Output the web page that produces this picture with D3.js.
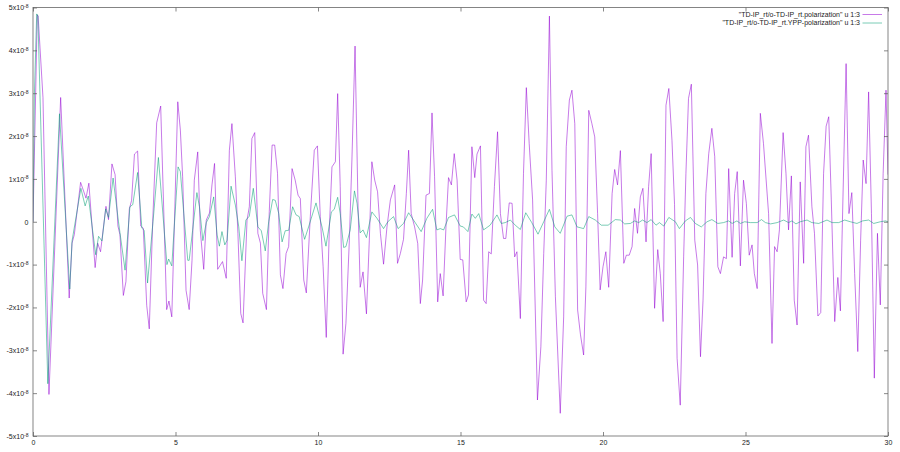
<!DOCTYPE html>
<html lang="en">
<head>
  <meta charset="UTF-8">
  <title>polarization</title>
  <script src="https://cdn.jsdelivr.net/npm/d3@7"></script>
  <style>
    body { margin: 0; background: #fff; }
    text { font-family: "Liberation Sans", Arial, sans-serif; fill: #222; }
  </style>
</head>
<body>
  <svg width="900" height="452"></svg>
  <script>
    // values are in units of 1e-8 as [time, value]
    const unit = 1e-8;
    const seriesNames = ['"TD-IP_rt/o-TD-IP_rt.polarization" u 1:3', '"TD-IP_rt/o-TD-IP_rt.YPP-polarization" u 1:3'];
    const xTicks = [0, 5, 10, 15, 20, 25, 30];
    const yTicks = [-5, -4, -3, -2, -1, 0, 1, 2, 3, 4, 5];

    const polarization = [
      [0,0],[0.15,4.83],[0.18,4.8],[0.35,2.9],[0.56,-4.03],[0.97,2.9],[1.27,-1.78],[1.37,-0.5],[1.45,-0.3],
      [1.67,0.92],[1.86,0.55],[1.96,0.9],[2.18,-1.07],[2.27,-0.5],[2.37,-0.7],[2.56,0.36],[2.65,0.05],
      [2.77,1.35],[2.88,1.1],[2.98,-0.1],[3.05,-0.3],[3.17,-1.72],[3.26,-1.4],[3.38,0.3],[3.46,0.5],
      [3.56,1.58],[3.67,1.65],[3.78,-0.1],[3.87,-0.15],[3.99,-1.95],[4.08,-2.5],[4.2,0],[4.34,2.31],
      [4.48,2.7],[4.69,-2.05],[4.77,-1.85],[4.87,-2.22],
      [5.08,2.8],[5.17,2.14],[5.25,1.05],[5.37,-1.6],[5.48,-2.05],[5.58,-0.9],[5.66,0.97],[5.78,1.63],
      [5.87,-0.2],[5.99,-1.11],[6.08,0.04],[6.19,0.2],[6.28,0.86],[6.37,1.36],[6.48,-1.11],[6.65,-0.93],
      [6.78,-1.32],[6.89,1.67],[6.98,2.29],[7.1,1.05],[7.19,-0.27],[7.29,-2.14],[7.37,-2.36],[7.51,0.04],
      [7.59,0.35],[7.68,1.94],[7.78,2.08],[7.89,-0.27],[7.98,-0.5],[8.06,-1.67],[8.19,-2.05],[8.29,0.23],
      [8.39,1.79],[8.48,1.79],
      [8.58,1.13],[8.68,-1.24],[8.77,-1.56],[8.88,-0.74],[8.97,-0.58],[9.09,1.24],[9.2,0.97],[9.3,0.62],
      [9.38,0.54],[9.5,-1.36],[9.59,-1.66],[9.73,0.12],[9.87,1.67],[9.98,1.77],[10.08,0.12],[10.18,-1.05],
      [10.29,-2.7],[10.4,-0.12],[10.49,1.28],[10.61,1.4],[10.69,2.99],[10.78,0.82],[10.88,-3.09],[10.98,-2.37],
      [11.1,-0.43],[11.19,1.44],[11.3,4.1],[11.4,0.51],[11.48,-1.53],[11.58,-1.17],[11.7,-2.15],[11.8,-0.43],
      [11.89,1.4],
      [11.99,0.97],[12.09,0.7],[12.19,-0.27],[12.3,-0.99],[12.42,-0.12],[12.54,0.51],[12.69,0.86],[12.79,-0.97],
      [12.89,-0.74],[13.0,-0.41],[13.1,0.66],[13.18,1.67],[13.27,0.19],[13.39,-0.12],[13.5,-0.51],[13.59,-1.91],
      [13.67,-1.36],[13.79,0.62],[13.91,0.66],[14.0,2.54],[14.09,1.05],[14.2,-1.87],[14.29,-1.21],[14.39,-1.73],
      [14.49,-0.12],[14.58,1.03],[14.68,0.86],[14.78,1.59],[14.88,0.97],[14.99,-0.88],[15.08,-0.89],[15.2,-1.87],
      [15.28,-1.71],[15.4,1.75],
      [15.5,1.03],[15.58,1.58],[15.7,1.77],[15.81,-1.83],[15.9,-1.91],[15.99,-0.7],[16.08,-0.75],[16.19,0.82],
      [16.3,2.1],[16.4,0.19],[16.51,-0.39],[16.59,-0.39],[16.71,0.44],[16.81,0.43],[16.9,-0.82],[16.98,-0.7],
      [17.1,-2.26],[17.21,1.13],[17.31,3.13],[17.41,1.83],[17.53,0.51],[17.7,-4.16],[17.82,-2.92],[17.92,-0.74],
      [18.01,0.97],[18.12,4.8],[18.21,1.2],[18.33,-1.75],[18.5,-4.47],[18.62,-2.22],[18.71,1.75],[18.82,2.84],
      [18.91,3.07],
      [19.01,2.29],[19.11,-2.06],[19.21,-2.64],[19.32,-3.11],[19.4,-1.52],[19.5,2.6],[19.61,2.29],[19.71,1.98],
      [19.81,0.19],[19.9,-1.59],[20.0,-1.05],[20.1,-0.7],[20.2,-1.53],[20.32,0.66],[20.41,1.22],[20.51,0.86],
      [20.61,1.66],[20.73,-0.97],[20.82,-0.78],[20.92,-0.78],[21.02,-0.58],[21.11,0.31],[21.21,-0.27],[21.31,0.58],
      [21.4,0.78],[21.51,-0.47],[21.6,0.82],[21.69,1.59],[21.81,-2.02],[21.92,-0.65],[22.01,-1.21],[22.11,-2.33],
      [22.21,2.72],[22.31,3.11],[22.42,1.9],[22.51,0.4],
      [22.6,-3.19],[22.71,-4.28],[22.83,-0.82],[22.91,1.13],[23.0,2.88],[23.1,3.21],[23.22,-0.43],[23.32,-1.01],
      [23.42,-3.15],[23.51,-1.83],[23.61,0.66],[23.71,1.59],[23.82,2.18],[23.92,1.52],[24.03,-1.05],[24.12,-1.21],
      [24.23,-0.82],[24.33,-0.86],[24.41,1.24],[24.53,-0.83],[24.62,0.66],[24.71,1.17],[24.82,-1.03],[24.93,0.97],
      [25.03,0.43],[25.13,-0.78],[25.23,-0.54],[25.31,-1.21],[25.41,-1.56],[25.52,2.53],[25.63,1.83],[25.81,0.19],
      [25.93,-2.84],[26.02,-0.58],
      [26.11,-0.7],[26.19,-0.19],[26.32,2.08],[26.42,1.13],[26.51,-0.19],[26.61,1.07],[26.71,-1.83],[26.81,-2.41],
      [26.92,0.93],[27.04,-0.97],[27.12,1.75],[27.21,2.02],[27.33,0.35],[27.42,-0.27],[27.54,-2.2],[27.64,-2.12],
      [27.74,1.13],[27.83,2.23],[27.92,2.45],[28.01,0.51],[28.13,-2.33],[28.24,-1.3],[28.33,-2.08],[28.42,0.58],
      [28.53,3.69],[28.63,0.19],[28.73,0.68],[28.83,-1.21],[28.94,-3.03],[29.04,-0.43],[29.13,1.44],[29.23,0.89],
      [29.32,3.03],[29.42,0.19],[29.52,-3.65],[29.63,-0.27],[29.73,-1.94],[29.83,1.13],[29.93,3.07],[30.0,1.1]
    ];

    const yppPolarization = [
      [0,0],[0.05,3.0],[0.13,4.85],[0.17,4.8],[0.52,-3.78],[0.93,2.52],[1.29,-1.57],[1.37,-0.45],[1.68,0.78],
      [1.83,0.37],[1.94,0.6],[2.2,-0.77],[2.3,-0.34],[2.42,-0.45],[2.55,0.3],[2.65,0.1],[2.81,1.02],[3.0,0],
      [3.05,-0.25],[3.23,-1.13],[3.4,0.35],[3.5,0.4],[3.67,1.15],[3.82,-0.15],[3.9,-0.2],[4.02,-1.43],[4.25,0.3],
      [4.4,1.5],[4.7,-1.0],[4.76,-0.87],[4.87,-1.03],
      [5.09,1.28],[5.17,1.17],[5.29,0.2],[5.43,-0.9],[5.48,-0.9],[5.6,-0.2],[5.75,0.68],[5.84,0.35],[5.96,-0.44],
      [6.08,-0.02],[6.19,0.12],[6.34,0.58],[6.46,-0.31],[6.54,-0.57],[6.63,-0.23],[6.73,-0.54],[6.81,-0.43],
      [6.95,0.83],[7.1,0.39],[7.22,-0.12],[7.33,-0.91],[7.47,0.04],[7.59,0.13],[7.73,0.78],[7.89,-0.12],
      [8.01,-0.21],[8.15,-0.68],[8.27,0],[8.41,0.52],[8.5,0.5],
      [8.62,0.2],[8.74,-0.47],[8.85,-0.21],[8.97,-0.2],[9.11,0.35],[9.23,0.16],[9.34,0.12],[9.53,-0.41],
      [9.67,-0.12],[9.93,0.44],[10.14,-0.12],[10.28,-0.57],[10.47,0.23],[10.57,0.29],[10.69,0.57],[10.78,0.19],
      [10.9,-0.6],[10.98,-0.58],[11.13,-0.19],[11.28,0.72],[11.37,0.43],[11.48,-0.26],[11.58,-0.19],[11.7,-0.37],
      [11.89,0.23],
      [12.07,0.08],[12.3,-0.16],[12.45,0],[12.65,0.12],[12.81,-0.16],[13.0,-0.04],[13.18,0.21],[13.35,0.04],
      [13.62,-0.23],[13.82,0.08],[14.02,0.29],[14.17,-0.19],[14.29,-0.16],[14.41,-0.19],[14.58,0.1],[14.79,0.16],
      [14.99,-0.1],[15.1,-0.12],[15.26,-0.23],[15.4,0.18],
      [15.52,0.08],[15.64,0.19],[15.81,-0.19],[16.04,-0.08],[16.28,0.16],[16.43,-0.04],[16.57,-0.02],[16.75,0.04],
      [16.92,-0.08],[17.1,-0.18],[17.29,0.21],[17.5,-0.02],[17.72,-0.29],[17.92,0],[18.12,0.29],[18.31,-0.12],
      [18.5,-0.27],[18.74,0.13],[18.91,0.16],
      [19.09,-0.12],[19.32,-0.16],[19.5,0.12],[19.73,0.04],[19.94,-0.08],[20.18,-0.08],[20.43,0.05],[20.61,0.04],
      [20.76,-0.05],[20.96,-0.04],[21.11,0.02],[21.25,-0.02],[21.39,0.04],[21.54,-0.02],[21.69,0.05],[21.86,-0.08],
      [21.98,-0.02],[22.13,-0.1],[22.31,0.1],[22.54,0],
      [22.68,-0.16],[22.89,0.02],[23.07,0.1],[23.24,-0.04],[23.45,-0.12],[23.65,0],[23.82,0.05],[24.03,-0.04],
      [24.23,-0.02],[24.41,0.02],[24.53,-0.04],[24.7,0.02],[24.82,-0.04],[24.97,0],[25.17,-0.02],[25.41,-0.02],
      [25.56,0.05],[25.7,-0.02],[25.88,-0.05],
      [26.11,-0.02],[26.34,0.04],[26.51,-0.02],[26.63,0.02],[26.77,-0.05],[26.92,0],[27.16,0.04],[27.33,-0.02],
      [27.57,-0.04],[27.86,0.04],[28.04,-0.02],[28.27,-0.02],[28.48,0.04],[28.68,0],[28.91,-0.04],[29.11,0.02],
      [29.32,0.04],[29.5,-0.04],[29.73,0],[29.91,0.02],[30,0]
    ];

    const colors = ['#9400d3', '#009e73'];

    const svg = d3.select('svg');
    const margin = {left: 33, right: 12, top: 7.5, bottom: 16};
    const W = 900, H = 452;

    const x = d3.scaleLinear().domain([0, 30]).range([margin.left, W - margin.right]);
    const y = d3.scaleLinear().domain([-5 * unit, 5 * unit]).range([H - margin.bottom, margin.top]);

    svg.append('clipPath').attr('id', 'clip')
      .append('rect')
      .attr('x', margin.left).attr('y', margin.top)
      .attr('width', x.range()[1] - margin.left)
      .attr('height', y.range()[0] - margin.top);

    const line = d3.line()
      .x(d => x(d[0]))
      .y(d => y(d[1] * unit));

    [polarization, yppPolarization].forEach((s, i) => {
      svg.append('path')
        .datum(s)
        .attr('clip-path', 'url(#clip)')
        .attr('fill', 'none')
        .attr('stroke', colors[i])
        .attr('stroke-width', 0.7)
        .attr('stroke-opacity', 0.75)
        .attr('stroke-linejoin', 'round')
        .attr('d', line);
    });

    // axes, ticks pointing inwards like gnuplot
    function yLabel(sel) {
      sel.selectAll('.tick text').each(function(d) {
        const t = d3.select(this);
        const v = Math.round(d / unit);
        t.text(null);
        if (v === 0) { t.text('0'); return; }
        t.append('tspan').text(v + 'x10');
        t.append('tspan').attr('dy', '-0.45em').attr('font-size', '5px').text('-8');
      });
    }

    svg.append('g')
      .attr('transform', `translate(${margin.left},0)`)
      .call(d3.axisLeft(y).tickValues(yTicks.map(v => v * unit))
        .tickSizeInner(-4).tickSizeOuter(0).tickPadding(4.5))
      .call(yLabel);

    svg.append('g')
      .attr('transform', `translate(${x.range()[1]},0)`)
      .call(d3.axisRight(y).tickValues(yTicks.map(v => v * unit))
        .tickSizeInner(-4).tickSizeOuter(0).tickFormat(''));

    svg.append('g')
      .attr('transform', `translate(0,${y.range()[0]})`)
      .call(d3.axisBottom(x).tickValues(xTicks)
        .tickSizeInner(-4).tickSizeOuter(0).tickPadding(4.5).tickFormat(d3.format('d')));

    svg.append('g')
      .attr('transform', `translate(0,${margin.top})`)
      .call(d3.axisTop(x).tickValues(xTicks)
        .tickSizeInner(-4).tickSizeOuter(0).tickFormat(''));

    svg.selectAll('.domain').remove();
    svg.selectAll('.tick line').attr('stroke', '#555').attr('stroke-width', 0.7);
    svg.selectAll('.tick text').attr('font-size', '7px').attr('fill', '#222');

    // border
    svg.append('rect')
      .attr('x', margin.left).attr('y', margin.top)
      .attr('width', x.range()[1] - margin.left)
      .attr('height', y.range()[0] - margin.top)
      .attr('fill', 'none').attr('stroke', '#666').attr('stroke-width', 0.8);

    // legend
    const legend = svg.append('g');
    seriesNames.forEach((name, i) => {
      const ly = 14.5 + i * 8.5;
      legend.append('text')
        .attr('x', 860).attr('y', ly).attr('dy', '0.35em')
        .attr('text-anchor', 'end').attr('font-size', '7px')
        .text(name);
      legend.append('line')
        .attr('x1', 862.5).attr('x2', 882).attr('y1', ly).attr('y2', ly)
        .attr('stroke', colors[i]).attr('stroke-width', 0.7).attr('stroke-opacity', 0.75);
    });
  </script>
</body>
</html>
